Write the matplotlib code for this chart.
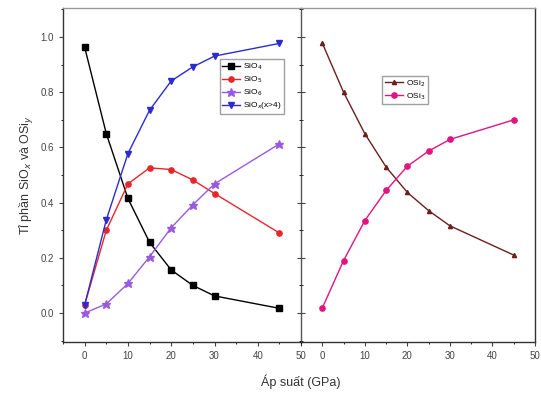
import matplotlib
matplotlib.use("Agg")
import matplotlib.pyplot as plt
from matplotlib.ticker import MultipleLocator

plt.rcParams['font.family'] = ['Liberation Sans', 'DejaVu Sans']

pressure = [0, 5, 10, 15, 20, 25, 30, 45]
sio4 = [0.963, 0.65, 0.415, 0.256, 0.156, 0.10, 0.062, 0.017]
sio5 = [0.03, 0.30, 0.468, 0.526, 0.52, 0.482, 0.433, 0.29]
sio6 = [0.0, 0.033, 0.107, 0.204, 0.309, 0.392, 0.468, 0.613]
siox = [0.029, 0.338, 0.578, 0.735, 0.841, 0.892, 0.931, 0.977]
osi2 = [0.978, 0.80, 0.65, 0.529, 0.437, 0.371, 0.316, 0.21]
osi3 = [0.018, 0.19, 0.335, 0.444, 0.532, 0.587, 0.629, 0.70]

left_labels = ['SiO$_4$', 'SiO$_5$', 'SiO$_6$', 'SiO$_x$(x>4)']
right_labels = ['OSi$_2$', 'OSi$_3$']
xticks = [0, 10, 20, 30, 40, 50]
yticks = [0.0, 0.2, 0.4, 0.6, 0.8, 1.0]

fig = plt.figure(figsize=(5.41, 3.98), dpi=100)
axL = fig.add_axes([0.1165, 0.1407, 0.44, 0.839])
axR = fig.add_axes([0.5564, 0.1407, 0.4325, 0.839])
axR.patch.set_alpha(0)

ms = 3.8
axL.plot(pressure, sio4, '-s', color='black', ms=ms, lw=1, label=left_labels[0])
axL.plot(pressure, sio5, '-o', color='#e8262a', ms=ms, lw=1, label=left_labels[1])
axL.plot(pressure, sio6, '-*', color='#9a5ae0', ms=ms + 2.5, lw=1, label=left_labels[2])
axL.plot(pressure, siox, '-v', color='#2b2bd0', ms=ms, lw=1, label=left_labels[3])

axR.plot(pressure, osi2, '-^', color='#6b1f1f', ms=3, lw=1, label=right_labels[0])
axR.plot(pressure, osi3, '-o', color='#e0157f', ms=ms, lw=1, label=right_labels[1])

for ax in (axL, axR):
    ax.set_xlim(-5, 50)
    ax.set_ylim(-0.105, 1.105)
    ax.set_xticks(xticks)
    ax.xaxis.set_minor_locator(MultipleLocator(5))
    ax.set_yticks(yticks)
    ax.yaxis.set_minor_locator(MultipleLocator(0.1))
    ax.tick_params(axis='both', labelsize=7, colors='#444444', width=0.8, length=3)
    ax.tick_params(axis='both', which='minor', length=1.5, width=0.6)
    for s in ax.spines.values():
        s.set_linewidth(1.0)
        s.set_color('#333333')
    ax.spines['top'].set_color('#999999')

axL.tick_params(axis='y', which='both', right=True, direction='out')
axR.tick_params(axis='y', which='both', left=True, labelleft=False)
axR.spines['left'].set_visible(False)
axL.spines['right'].set_color('#555555')

axL.set_ylabel('Tỉ phần SiO$_x$ và OSi$_y$', fontsize=9, color='#333333', labelpad=3)
fig.text(0.555, 0.03, 'Áp suất (GPa)', ha='center', fontsize=9, color='#333333')

axL.legend(loc='upper left', bbox_to_anchor=(0.64, 0.86), fontsize=6, frameon=True,
           fancybox=False, edgecolor='#888888', handlelength=2.2, borderpad=0.3,
           labelspacing=0.3, handletextpad=0.3)
axR.legend(loc='upper left', bbox_to_anchor=(0.33, 0.81), fontsize=6, frameon=True,
           fancybox=False, edgecolor='#888888', handlelength=2.2, borderpad=0.3,
           labelspacing=0.3, handletextpad=0.3)

fig.savefig('out.png', dpi=100)
